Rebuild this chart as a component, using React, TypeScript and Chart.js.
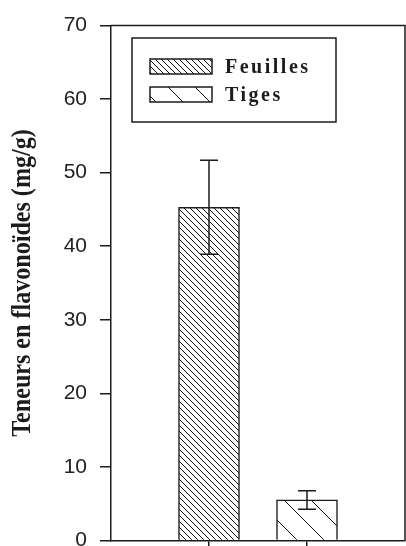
import React, { useEffect, useRef } from 'react';
import { Chart, registerables } from 'chart.js';

Chart.register(...registerables);

// ---- data ----
const xSlots = ['', 'Feuilles', 'Tiges', ' '];
const seriesNames = ['Feuilles', 'Tiges'];
const seriesMeans = [45.3, 5.5];
const seriesErrors = [6.4, 1.25];
const yMin = 0;
const yMax = 70;
const yStep = 10;
const yTitle = 'Teneurs en flavonoïdes (mg/g)';
const hatchSpacings = [6, 27];

const INK = '#1c1c1c';

function makeHatch(ctx: CanvasRenderingContext2D, spacing: number) {
  const c = document.createElement('canvas');
  c.width = spacing;
  c.height = spacing;
  const g = c.getContext('2d')!;
  g.fillStyle = '#ffffff';
  g.fillRect(0, 0, spacing, spacing);
  g.strokeStyle = '#111111';
  g.lineWidth = 1;
  g.beginPath();
  for (let k = -1; k <= 1; k++) {
    g.moveTo(k * spacing, 0);
    g.lineTo(k * spacing + spacing, spacing);
  }
  g.stroke();
  return ctx.createPattern(c, 'repeat') as CanvasPattern;
}

const frameAndErrorPlugin = {
  id: 'frameAndError',
  afterDatasetsDraw(chart: any) {
    const { ctx, chartArea, scales } = chart;
    ctx.save();
    // error bars
    ctx.strokeStyle = INK;
    ctx.lineWidth = 1.5;
    chart.data.datasets.forEach((ds: any, i: number) => {
      const meta = chart.getDatasetMeta(i);
      ds.data.forEach((v: number | null, j: number) => {
        if (v == null) return;
        const el = meta.data[j];
        const x = el.x;
        const e = ds.errorValue as number;
        const yTop = scales.y.getPixelForValue(v + e);
        const yBot = scales.y.getPixelForValue(v - e);
        const cap = 9;
        ctx.beginPath();
        ctx.moveTo(x, yTop);
        ctx.lineTo(x, yBot);
        ctx.moveTo(x - cap, yTop);
        ctx.lineTo(x + cap, yTop);
        ctx.moveTo(x - cap, yBot);
        ctx.lineTo(x + cap, yBot);
        ctx.stroke();
      });
    });
    // frame
    ctx.lineWidth = 1.5;
    ctx.strokeStyle = INK;
    ctx.beginPath();
    ctx.moveTo(chartArea.left, chartArea.top);
    ctx.lineTo(chartArea.right, chartArea.top);
    ctx.lineTo(chartArea.right, chartArea.bottom);
    ctx.stroke();
    ctx.restore();
  },
  afterDraw(chart: any) {
    const { ctx, chartArea } = chart;
    ctx.save();
    // legend box
    ctx.strokeStyle = INK;
    ctx.lineWidth = 1.5;
    ctx.strokeRect(132, 38, 204, 84);
    chart.data.datasets.forEach((ds: any, i: number) => {
      const y = 59 + i * 28;
      ctx.fillStyle = ds.backgroundColor;
      ctx.fillRect(150, y, 62, 15);
      ctx.lineWidth = 1.5;
      ctx.strokeStyle = INK;
      ctx.strokeRect(150, y, 62, 15);
      ctx.font = 'bold 20px "Liberation Serif"';
      (ctx as any).letterSpacing = '2.5px';
      ctx.fillStyle = INK;
      ctx.textAlign = 'left';
      ctx.textBaseline = 'alphabetic';
      ctx.fillText(ds.label, 225, y + 14);
    });
    (ctx as any).letterSpacing = '0px';
    // y axis title
    const cy = (chartArea.top + chartArea.bottom) / 2;
    ctx.translate(23, cy);
    ctx.rotate(-Math.PI / 2);
    ctx.scale(0.86, 1);
    ctx.font = 'bold 28px "Liberation Serif"';
    ctx.fillStyle = INK;
    ctx.textAlign = 'center';
    ctx.textBaseline = 'middle';
    ctx.fillText(yTitle, 0, 0);
    ctx.restore();
  },
};

export default function App() {
  const ref = useRef<HTMLCanvasElement>(null);

  useEffect(() => {
    const canvas = ref.current!;
    const ctx = canvas.getContext('2d')!;
    const datasets = seriesNames.map((name, i) => ({
      label: name,
      data: xSlots.map((slot) => (slot === name ? seriesMeans[i] : null)),
      errorValue: seriesErrors[i],
      backgroundColor: makeHatch(ctx, hatchSpacings[i]),
      borderColor: INK,
      borderWidth: 1.5,
      barThickness: 61,
      grouped: false,
    }));

    const chart = new Chart(ctx, {
      type: 'bar',
      data: { labels: xSlots, datasets: datasets as any },
      options: {
        animation: false,
        responsive: false,
        layout: { padding: { top: 24, right: 1, left: 0, bottom: 0 } },
        plugins: {
          legend: { display: false },
          tooltip: { enabled: false },
        },
        scales: {
          x: {
            type: 'category',
            offset: false,
            afterFit: (s: any) => {
              s.height = 24;
            },
            ticks: { display: false },
            grid: {
              offset: false,
              drawOnChartArea: false,
              drawTicks: true,
              tickLength: 8,
              lineWidth: 1.5,
              color: (c: any) => (c.index === 1 || c.index === 2 ? INK : 'rgba(0,0,0,0)'),
            },
            border: { display: true, color: INK, width: 1.5 },
          },
          y: {
            min: yMin,
            max: yMax,
            afterFit: (s: any) => {
              s.width = 111;
            },
            ticks: {
              stepSize: yStep,
              padding: 13,
              color: '#222',
              font: { family: '"Liberation Sans", Arial, sans-serif', size: 21 },
            },
            grid: {
              drawOnChartArea: false,
              drawTicks: true,
              tickLength: 11,
              lineWidth: 1.5,
              color: INK,
            },
            border: { display: true, color: INK, width: 1.5 },
          },
        },
      },
      plugins: [frameAndErrorPlugin],
    });
    return () => chart.destroy();
  }, []);

  return (
    <div
      style={{
        position: 'fixed',
        left: 0,
        top: 0,
        width: 406,
        height: 546,
        overflow: 'hidden',
        background: '#ffffff',
      }}
    >
      <canvas ref={ref} width={406} height={566} style={{ display: 'block', width: 406, height: 566 }} />
    </div>
  );
}
